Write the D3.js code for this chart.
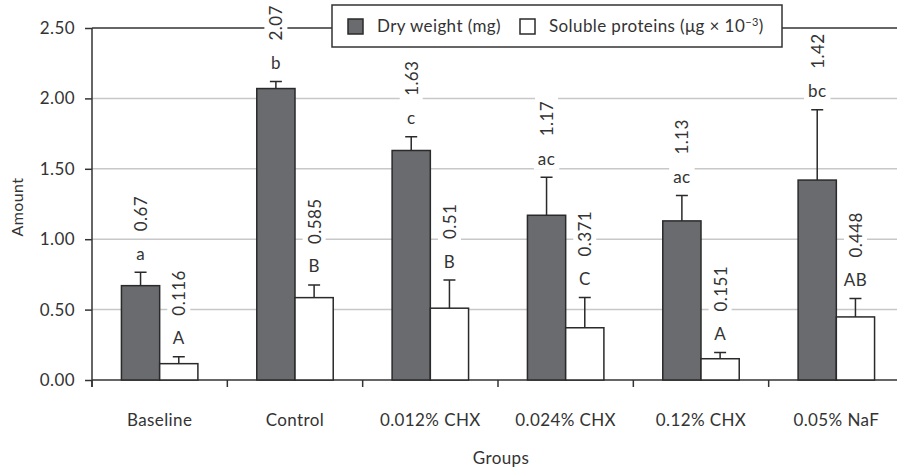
<!DOCTYPE html>
<html>
<head>
<meta charset="utf-8">
<script src="https://d3js.org/d3.v7.min.js"></script>
<style>
  body { margin: 0; background: #fff; }
  text { font-family: Lato, "Open Sans", sans-serif; fill: #333; letter-spacing: 0.4px; }
</style>
</head>
<body>
<div id="chart"></div>
<script>
// Chart data
var groups = ["Baseline", "Control", "0.012% CHX", "0.024% CHX", "0.12% CHX", "0.05% NaF"];
var dryWeight = [0.67, 2.07, 1.63, 1.17, 1.13, 1.42];
var dryWeightErr = [0.095, 0.05, 0.097, 0.27, 0.18, 0.50];
var dryWeightLetters = ["a", "b", "c", "ac", "ac", "bc"];
var proteins = [0.116, 0.585, 0.51, 0.371, 0.151, 0.448];
var proteinsErr = [0.05, 0.09, 0.2, 0.215, 0.045, 0.13];
var proteinLetters = ["A", "B", "B", "C", "A", "AB"];
var yTicks = [0, 0.5, 1, 1.5, 2, 2.5];

function drawChart() {
   var width = 897,
       height = 469;

   var margin = { left: 92, top: 28, bottom: 89 };
   var plotBottom = height - margin.bottom;
   var fontSize = "17px";

   var svg = d3.select("#chart")
      .append("svg")
      .attr("width", width)
      .attr("height", height);

   // scales
   var x = d3.scaleBand().domain(groups).range([margin.left, 904]);
   var xSeries = d3.scaleBand().domain(["dry", "prot"])
      .range([0, x.bandwidth()]).paddingOuter(0.77);
   var y = d3.scaleLinear().domain([0, 2.5]).range([plotBottom, margin.top]);

   // build rows for the bars
   var bars = [];
   groups.forEach(function(g, i) {
      bars.push({ group: g, series: "dry", value: dryWeight[i], err: dryWeightErr[i], letter: dryWeightLetters[i] });
      bars.push({ group: g, series: "prot", value: proteins[i], err: proteinsErr[i], letter: proteinLetters[i] });
   });

   // gridlines
   svg.append("g").selectAll("line")
      .data(yTicks.filter(function(d) { return d > 0; }))
      .enter().append("line")
      .attr("x1", margin.left).attr("x2", width)
      .attr("y1", function(d) { return y(d); })
      .attr("y2", function(d) { return y(d); })
      .attr("stroke", function(d) { return d === 2.5 ? "#333" : "#c8c8c8"; })
      .attr("stroke-width", 1.5);

   // y axis
   var yAxis = svg.append("g")
      .attr("transform", "translate(" + margin.left + ",0)")
      .call(d3.axisLeft(y).tickValues(yTicks).tickFormat(d3.format(".2f")).tickSize(7).tickPadding(10));
   yAxis.selectAll("line, path").attr("stroke", "#333").attr("stroke-width", 1.5);
   yAxis.select(".domain").attr("d", "M0," + (plotBottom + 7) + "V" + margin.top);
   yAxis.selectAll("text").style("font-size", fontSize).style("font-family", "Lato, sans-serif").attr("fill", "#333");

   // x axis
   var xAxis = svg.append("g")
      .attr("transform", "translate(0," + plotBottom + ")");
   xAxis.append("line")
      .attr("x1", margin.left).attr("x2", width)
      .attr("stroke", "#333").attr("stroke-width", 1.5);
   xAxis.selectAll(".tick")
      .data(groups)
      .enter().append("line")
      .attr("x1", function(d) { return x(d); })
      .attr("x2", function(d) { return x(d); })
      .attr("y1", 0).attr("y2", 7)
      .attr("stroke", "#333").attr("stroke-width", 1.5);
   xAxis.selectAll(".lbl")
      .data(groups)
      .enter().append("text")
      .attr("x", function(d) { return x(d) + x.bandwidth() / 2; })
      .attr("y", 46)
      .attr("text-anchor", "middle")
      .style("font-size", fontSize)
      .text(function(d) { return d; });

   // bars
   var barG = svg.append("g");
   barG.selectAll("rect")
      .data(bars)
      .enter().append("rect")
      .attr("x", function(d) { return x(d.group) + xSeries(d.series); })
      .attr("y", function(d) { return y(d.value); })
      .attr("width", xSeries.bandwidth())
      .attr("height", function(d) { return y(0) - y(d.value); })
      .attr("fill", function(d) { return d.series === "dry" ? "#6a6b6f" : "#fff"; })
      .attr("stroke", "#2a2a2a")
      .attr("stroke-width", 1.5);

   // error bars (upper half only)
   function cx(d) { return x(d.group) + xSeries(d.series) + xSeries.bandwidth() / 2; }
   barG.selectAll(".err")
      .data(bars)
      .enter().append("path")
      .attr("d", function(d) {
         var top = y(d.value + d.err);
         return "M" + cx(d) + "," + y(d.value) + "V" + top + "M" + (cx(d) - 6) + "," + top + "H" + (cx(d) + 6);
      })
      .attr("stroke", "#2a2a2a")
      .attr("stroke-width", 1.5)
      .attr("fill", "none");

   // letters and values above each bar, with white boxes behind
   var labelG = svg.append("g");
   bars.forEach(function(d) {
      var top = y(d.value + d.err);

      var lg = labelG.append("g").attr("transform", "translate(" + cx(d) + "," + (top - 19) + ")");
      var lbg = lg.append("rect").attr("fill", "#fff");
      var lt = lg.append("text")
         .attr("text-anchor", "middle")
         .attr("dominant-baseline", "central")
         .style("font-size", fontSize)
         .text(d.letter);
      var b = lt.node().getBBox();
      lbg.attr("x", b.x - 4).attr("y", b.y - 1).attr("width", b.width + 8).attr("height", b.height + 2);

      var vg = labelG.append("g").attr("transform", "translate(" + cx(d) + "," + (top - 41) + ") rotate(-90)");
      var vbg = vg.append("rect").attr("fill", "#fff");
      var vt = vg.append("text")
         .attr("dominant-baseline", "central")
         .style("font-size", fontSize)
         .text(String(d.value));
      var vb = vt.node().getBBox();
      vbg.attr("x", vb.x - 4).attr("y", vb.y - 1).attr("width", vb.width + 8).attr("height", vb.height + 2);
   });

   // legend
   var legend = svg.append("g");
   legend.append("rect")
      .attr("x", 332).attr("y", 5).attr("width", 450).attr("height", 42)
      .attr("fill", "#fff").attr("stroke", "#333").attr("stroke-width", 1.5);
   legend.append("rect")
      .attr("x", 348).attr("y", 19).attr("width", 15).attr("height", 15)
      .attr("fill", "#6a6b6f").attr("stroke", "#2a2a2a").attr("stroke-width", 1.5);
   legend.append("text")
      .attr("x", 377).attr("y", 32)
      .style("font-size", fontSize)
      .text("Dry weight (mg)");
   legend.append("rect")
      .attr("x", 520).attr("y", 19).attr("width", 15).attr("height", 15)
      .attr("fill", "#fff").attr("stroke", "#2a2a2a").attr("stroke-width", 1.5);
   var lt2 = legend.append("text")
      .attr("x", 549).attr("y", 32)
      .style("font-size", fontSize);
   lt2.append("tspan").text("Soluble proteins (\u03bcg \u00d7 10");
   lt2.append("tspan").attr("dy", -6).style("font-size", "11px").text("\u22123");
   lt2.append("tspan").attr("dy", 6).text(")");

   // axis titles
   svg.append("text")
      .attr("transform", "translate(23," + 207 + ") rotate(-90)")
      .attr("text-anchor", "middle")
      .style("font-size", "16px")
      .text("Amount");
   svg.append("text")
      .attr("x", 501).attr("y", 464)
      .attr("text-anchor", "middle")
      .style("font-size", fontSize)
      .text("Groups");
}
drawChart();
</script>
</body>
</html>
